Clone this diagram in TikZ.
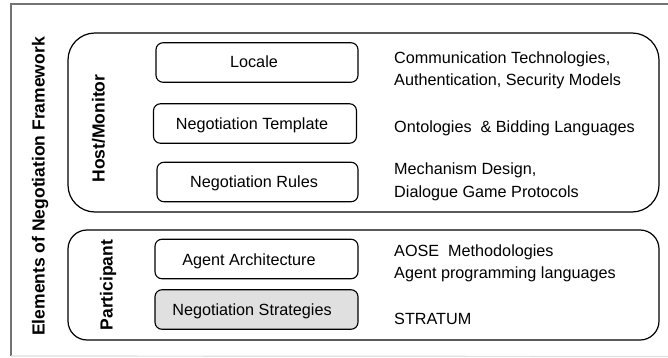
\documentclass[tikz,border=0pt]{standalone}
\usepackage{fontspec}
\setmainfont{Liberation Sans}
\begin{document}
\begin{tikzpicture}[x=1pt,y=-1pt,
  framegray/.style={draw=black!55,line width=1.4pt},
  bigbox/.style={draw=black,line width=1.2pt,rectangle,inner sep=0pt,outer sep=0pt},
  itembox/.style={draw=black,line width=1.1pt,rectangle,rounded corners=7pt,inner sep=0pt,outer sep=0pt,minimum height=39.5pt},
  itemtext/.style={anchor=base,font=\fontsize{16.2}{20}\selectfont,inner sep=0pt},
  desc/.style={anchor=base west,font=\fontsize{16.2}{20}\selectfont,inner sep=0pt},
  vlabel/.style={anchor=base,rotate=90,font=\fontsize{17.5}{20}\selectfont\bfseries,inner sep=0pt}
]
\useasboundingbox[fill=white] (0,0) rectangle (668,358);
% outer frame
\coordinate (fbl) at (11,356);
\coordinate (ftl) at (11,4);
\coordinate (ftr) at (668,4);
\coordinate (fbr) at (668,356.5);
\draw[framegray] (fbl) -- (ftl) -- (ftr);
\draw[draw=black!12,line width=1.2pt] (fbl) -- (fbr);

% group boxes
\node[bigbox,rounded corners=27pt,minimum width=591pt,minimum height=179pt] (host) at (363.5,122.5) {};
\node[bigbox,rounded corners=19pt,minimum width=591pt,minimum height=110pt] (part) at (363.5,285) {};

% vertical labels
\node[vlabel] (elab) at (44.5,186.5) {Elements of Negotiation Framework};
\node[vlabel] (hlab) at (104.5,128.5) {Host/Monitor};
\node[vlabel] (plab) at (112.5,285) {Participant};

% item boxes
\node[itembox,minimum width=202pt] (locale) at (257,62.5) {};
\node[itembox,minimum width=203pt] (templ) at (255,123.5) {};
\node[itembox,minimum width=201pt] (rules) at (257.5,182) {};
\node[itembox,minimum width=203pt] (arch) at (256.5,259) {};
\node[itembox,minimum width=203pt,fill=black!12] (strat) at (256.5,309.5) {};

\node[itemtext] (localet) at (254,67.7) {Locale};
\node[itemtext] (templt) at (252,129.7) {Negotiation Template};
\node[itemtext] (rulest) at (254,187.7) {Negotiation Rules};
\node[itemtext] (archt) at (249,265.7) {Agent Architecture};
\node[itemtext] (stratt) at (252,315.7) {Negotiation Strategies};

% descriptions
\node[desc] (d1) at (394,64) {Communication Technologies,};
\node[desc] (d2) at (394,86) {Authentication, Security Models};
\node[desc] (d3) at (394,133) {Ontologies\ \ \& Bidding Languages};
\node[desc] (d4) at (394,175) {Mechanism Design,};
\node[desc] (d5) at (394,197) {Dialogue Game Protocols};
\node[desc] (d6) at (394,256) {AOSE\ \ Methodologies};
\node[desc] (d7) at (394,278) {Agent programming languages};
\node[desc] (d8) at (394,324) {STRATUM};
\end{tikzpicture}
\end{document}
